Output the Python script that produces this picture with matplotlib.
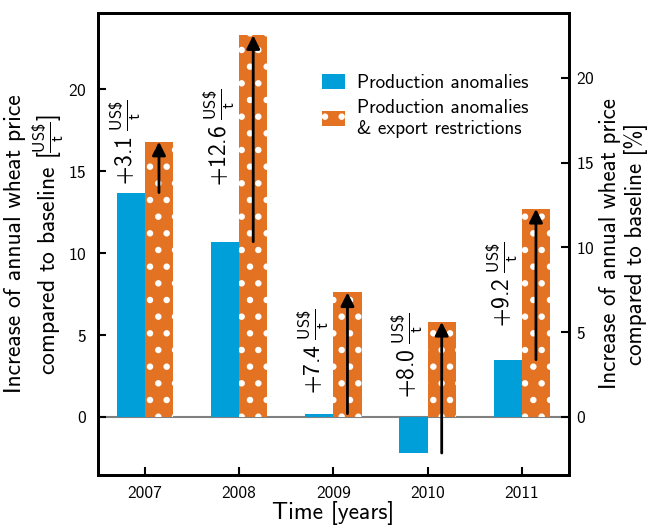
import numpy as np
import matplotlib
matplotlib.use("Agg")
import matplotlib.pyplot as plt

plt.rcParams['font.family'] = ['cmss10', 'DejaVu Sans']
plt.rcParams['mathtext.fontset'] = 'custom'
plt.rcParams['mathtext.rm'] = 'cmss10'
plt.rcParams['mathtext.sf'] = 'cmss10'
plt.rcParams['mathtext.it'] = 'cmss10'
plt.rcParams['axes.unicode_minus'] = False
plt.rcParams['axes.formatter.use_mathtext'] = True
plt.rcParams['hatch.linewidth'] = 2.2

years = ['2007', '2008', '2009', '2010', '2011']
prod_anomalies = [13.7, 10.7, 0.2, -2.2, 3.5]
prod_export = [16.8, 23.3, 7.6, 5.8, 12.7]
baseline_price = 103.5  # US$/t, for the % axis

blue = '#009FDA'
orange = '#E37222'

x = np.arange(len(years))
w = 0.3

fig = plt.figure(figsize=(6.48, 5.27), dpi=100)
ax = fig.add_axes([0.1508, 0.0987, 0.7272, 0.8766])

ax.axhline(0, color='0.5', lw=1.5, zorder=1)
ax.bar(x - w/2, prod_anomalies, w, color=blue, lw=0, zorder=2,
       label='Production anomalies')
ax.bar(x + w/2, prod_export, w, color=orange, edgecolor='white', hatch='.',
       lw=0, zorder=2, label='Production anomalies\n& export restrictions')

for i in range(len(years)):
    ax.annotate('', xy=(x[i] + w/2, prod_export[i]),
                xytext=(x[i] + w/2, prod_anomalies[i]),
                arrowprops=dict(arrowstyle='-|>', color='black', lw=2,
                                mutation_scale=20, shrinkA=0, shrinkB=0),
                zorder=3)

# label centres, nudged by hand for 2007 and 2010
label_y = [16.8, 17.1, 4.0, 3.8, 8.1]
for i in range(len(years)):
    diff = prod_export[i] - prod_anomalies[i]
    ax.text(x[i] - 0.2, label_y[i],
            r'$+%.1f\ \frac{\mathrm{US\$}}{\mathrm{t}}$' % diff,
            rotation=90, ha='center', va='center', fontsize=17)

ax.set_xlim(-0.5, 4.5)
ax.set_ylim(-3.54, 24.66)
ax.set_xticks(x)
ax.set_xticklabels(years)
ax.set_yticks([0, 5, 10, 15, 20])
ax.tick_params(direction='in', length=6, width=1.5, labelsize=12.5, pad=8)
for s in ax.spines.values():
    s.set_linewidth(2)

ax.set_xlabel('Time [years]', fontsize=17, labelpad=0)
ax.set_ylabel('Increase of annual wheat price\n'
              r'compared to baseline [$\frac{\mathrm{US\$}}{\mathrm{t}}$]',
              fontsize=17, labelpad=1)

ax2 = ax.twinx()
lo, hi = ax.get_ylim()
ax2.set_ylim(lo / baseline_price * 100, hi / baseline_price * 100)
ax2.set_yticks([0, 5, 10, 15, 20])
ax2.tick_params(direction='in', length=6, width=1.5, labelsize=12.5, pad=5)
for s in ax2.spines.values():
    s.set_linewidth(2)
ax2.set_ylabel('Increase of annual wheat price\ncompared to baseline [%]',
               fontsize=16.5, rotation=90, labelpad=3)

ax.legend(loc='upper left', bbox_to_anchor=(0.44, 0.905), frameon=False,
          fontsize=13.8, handlelength=1.2, handleheight=0.8,
          handletextpad=0.6, labelspacing=0.35)

fig.savefig('out.png', dpi=100)
